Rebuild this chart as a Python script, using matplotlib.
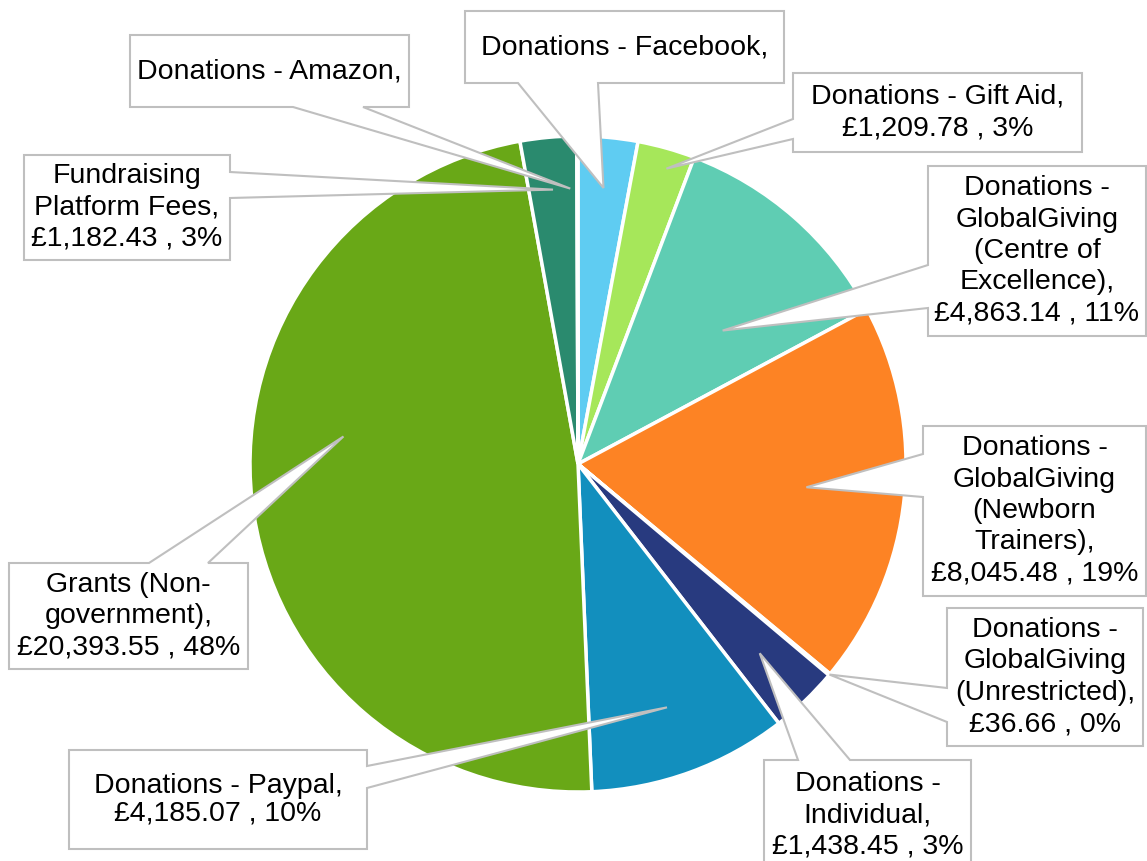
import numpy as np
import matplotlib
matplotlib.use("Agg")
import matplotlib.pyplot as plt
from matplotlib.patches import Polygon

# data, clockwise from 12 o'clock
labels = ["Donations - Facebook,",
          "Donations - Gift Aid,\n£1,209.78 , 3%",
          "Donations -\nGlobalGiving\n(Centre of\nExcellence),\n£4,863.14 , 11%",
          "Donations -\nGlobalGiving\n(Newborn\nTrainers),\n£8,045.48 , 19%",
          "Donations -\nGlobalGiving\n(Unrestricted),\n£36.66 , 0%",
          "Donations -\nIndividual,\n£1,438.45 , 3%",
          "Donations - Paypal,\n£4,185.07 , 10%",
          "Grants (Non-\ngovernment),\n£20,393.55 , 48%",
          "Fundraising\nPlatform Fees,\n£1,182.43 , 3%",
          "Donations - Amazon,"]
values = [1250, 1209.78, 4863.14, 8045.48, 36.66, 1438.45, 4185.07, 20393.55, 1182.43, 25]
colors = ["#5FCCF2", "#A6E75A", "#5FCDB3", "#FD8324", "#8C8C8C",
          "#283A7F", "#128FBE", "#69A817", "#2A8A6E", "#1F6F8B"]

# callout layout in pixels (y down): box, side of spike, spike base, apex angle offset, apex radius
boxes = [(465, 11, 784, 83), (793, 73, 1082, 152), (928, 166, 1146, 336),
         (923, 426, 1146, 596), (947, 608, 1143, 746), (764, 760, 971, 875),
         (69, 750, 367, 849), (9, 563, 248, 669), (24, 155, 230, 260),
         (130, 35, 409, 107)]
sides = ["bottom", "left", "left", "left", "left", "top", "right", "top", "right", "bottom"]
bases = [(518, 598), (119, 139), (265, 308), (454, 497), (688, 722), (798, 850),
         (766, 788), (149, 208), (172, 198), (293, 363)]
offsets = [0, 1, 6, 0, 0, 0, 0, 13, 0, -1.5]
rfrac = [0.845, 0.94, 0.60, 0.70, 1.0, 0.80, 0.79, 0.72, 0.84, 0.84]

W, H = 1147, 861
cx, cy, R = 578, H - 464, 328

fig = plt.figure(figsize=(W / 100, H / 100), dpi=100)
ax = fig.add_axes([0, 0, 1, 1])
wedges, _ = ax.pie(values, colors=colors, startangle=90, counterclock=False,
                   center=(cx, cy), radius=R,
                   wedgeprops=dict(edgecolor="white", linewidth=2.5))
ax.set_xlim(0, W)
ax.set_ylim(0, H)
ax.set_aspect("equal")
ax.axis("off")


def callout(box, side, b, apex):
    x0, y0, x1, y1 = box
    b1, b2 = sorted(b)
    pts = [(x0, y0)]
    if side == "top":
        pts += [(b1, y0), apex, (b2, y0)]
    pts.append((x1, y0))
    if side == "right":
        pts += [(x1, b1), apex, (x1, b2)]
    pts.append((x1, y1))
    if side == "bottom":
        pts += [(b2, y1), apex, (b1, y1)]
    pts.append((x0, y1))
    if side == "left":
        pts += [(x0, b2), apex, (x0, b1)]
    return [(x, H - y) for x, y in pts]


for i, w in enumerate(wedges):
    m = np.deg2rad((w.theta1 + w.theta2) / 2 - offsets[i])
    ax_ = cx + rfrac[i] * R * np.cos(m)
    ay_ = cy + rfrac[i] * R * np.sin(m)
    apex = (ax_, H - ay_)
    poly = Polygon(callout(boxes[i], sides[i], bases[i], apex), closed=True,
                   facecolor="white", edgecolor="#BFBFBF", linewidth=1.5,
                   joinstyle="miter", zorder=3)
    ax.add_patch(poly)
    x0, y0, x1, y1 = boxes[i]
    ty = (y0 + y1) / 2 if i != 5 else 815
    ls = 1.08 if i == 6 else 1.27
    ax.text((x0 + x1) / 2, H - ty, labels[i], ha="center", va="center",
            multialignment="center", fontsize=20.5, family="Liberation Sans",
            linespacing=ls, color="black", zorder=4)

fig.savefig("out.png", dpi=100)
